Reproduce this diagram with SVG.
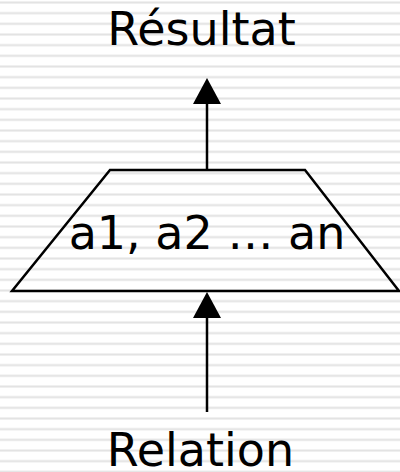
<svg xmlns="http://www.w3.org/2000/svg" width="400" height="472" viewBox="0 0 400 472">
  <defs>
    <!-- horizontal ruled background -->
    <pattern id="rules" x="0" y="0" width="400" height="10.667" patternUnits="userSpaceOnUse">
      <rect x="0" y="0" width="400" height="10.667" fill="#ffffff"/>
      <rect x="0" y="1.5" width="400" height="2" fill="#e2e2e2"/>
    </pattern>
  </defs>
  <style>
    .lbl { font-family: "DejaVu Sans", Verdana, sans-serif; font-size: 46px; fill: #000; text-anchor: middle; }
    .edge { stroke: #000; stroke-width: 2.5; fill: none; }
    .head { fill: #000; }
  </style>

  <rect width="400" height="472" fill="url(#rules)"/>

  <g id="connectors">
    <path class="edge" d="M207,170 L207,104"/>
    <path class="head" d="M193,104 L207,78 L221,104 Z"/>
    <path class="edge" d="M207,412 L207,318"/>
    <path class="head" d="M193,318 L207,292 L221,318 Z"/>
  </g>

  <g id="result">
    <text class="lbl" x="201.5" y="45">Résultat</text>
  </g>

  <g id="projection">
    <polygon points="110,170 305,170 399,291 12,291" fill="none" stroke="#000" stroke-width="2.5"/>
    <text class="lbl" x="207" y="249" font-size="46.5">a1, a2 … an</text>
  </g>

  <g id="relation">
    <text class="lbl" x="200.5" y="466">Relation</text>
  </g>
</svg>
